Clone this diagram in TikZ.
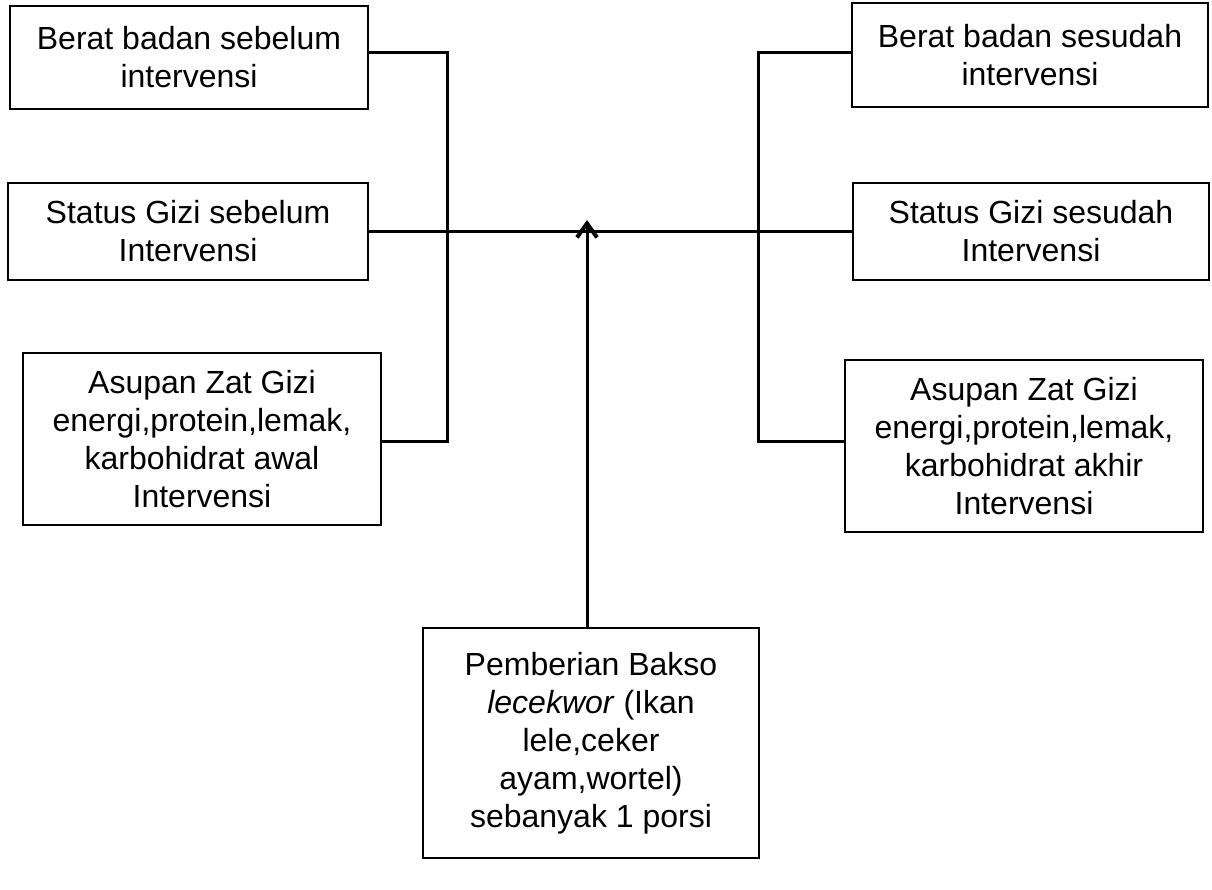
\documentclass[tikz,border=0pt]{standalone}
\usepackage{fontspec}
\setmainfont{Liberation Sans}
\usetikzlibrary{arrows.meta}
\begin{document}
\begin{tikzpicture}[x=1pt,y=-1pt,
  box/.style={draw=black, line width=2pt, inner sep=0pt, outer sep=0pt, align=center,
    font=\fontsize{32}{38}\selectfont},
  conn/.style={draw=black, line width=3pt}]
\useasboundingbox (0,0) rectangle (1212,889);
\fill[white] (0,0) rectangle (1212,889);
% left boxes
\node[box, minimum width=358, minimum height=103] (L1) at (189,57.5) {Berat badan sebelum\\intervensi};
\node[box, minimum width=360, minimum height=97] (L2) at (188,231.5) {Status Gizi sebelum\\Intervensi};
\node[box, minimum width=358, minimum height=172] (L3) at (202,439) {Asupan Zat Gizi\\energi,protein,lemak,\\karbohidrat awal\\Intervensi};
% right boxes
\node[box, minimum width=356, minimum height=104] (R1) at (1030,55) {Berat badan sesudah\\intervensi};
\node[box, minimum width=356, minimum height=97] (R2) at (1031,231.5) {Status Gizi sesudah\\Intervensi};
\node[box, minimum width=358, minimum height=172] (R3) at (1024,446) {Asupan Zat Gizi\\energi,protein,lemak,\\karbohidrat akhir\\Intervensi};
% bottom box
\node[box, minimum width=336, minimum height=230] (B) at (591,743) {Pemberian Bakso\\\textit{lecekwor} (Ikan\\lele,ceker\\ayam,wortel)\\sebanyak 1 porsi};
% junctions
\coordinate (jLt) at (447,52);
\coordinate (jLb) at (447,441);
\coordinate (jRt) at (758,52);
\coordinate (jRb) at (758,441);
\coordinate (ax) at (587,232);
\coordinate (tip) at (587,220);
% connectors
\draw[conn] (jLt -| L1.east) -- (jLt) -- (jLb) -- (jLb -| L3.east);
\draw[conn] (jRt -| R1.west) -- (jRt) -- (jRb) -- (jRb -| R3.west);
\draw[conn] (L2.east) -- (R2.west);
\draw[conn, -{Straight Barb[length=14pt,width=20pt,line width=4pt]}] (ax |- B.north) -- (tip);
\end{tikzpicture}
\end{document}
